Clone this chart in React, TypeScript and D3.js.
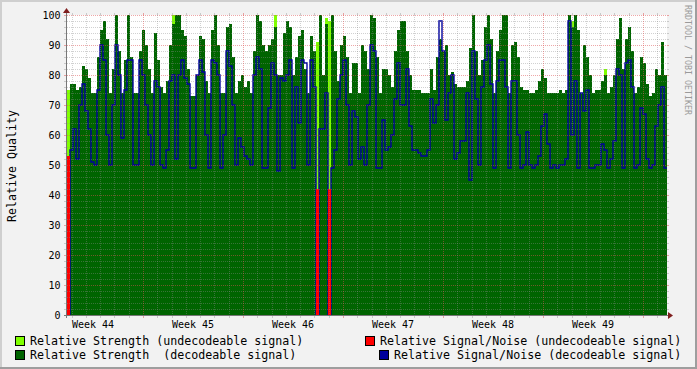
import React, { useEffect } from "react";
import * as d3 from "d3";

// one sample every ~5 hours
const strength = [
  0, 77, 77, 75, 76, 83, 82, 79, 74, 74,
  86, 95, 98, 92, 74, 82, 100, 88, 74, 85,
  100, 86, 74, 74, 88, 95, 90, 82, 74, 94,
  85, 76, 74, 78, 90, 97, 100, 100, 95, 93,
  82, 73, 73, 80, 93, 92, 78, 74, 95, 100,
  90, 74, 74, 96, 97, 86, 74, 78, 80, 76,
  78, 74, 88, 100, 98, 90, 88, 90, 92, 96,
  80, 80, 94, 98, 96, 80, 86, 93, 95, 82,
  74, 93, 88, 0, 100, 80, 97, 0, 100, 88,
  78, 90, 93, 86, 74, 84, 84, 74, 90, 88,
  82, 100, 99, 86, 74, 82, 82, 80, 76, 88,
  95, 98, 98, 88, 80, 75, 75, 75, 74, 74,
  74, 82, 75, 86, 92, 88, 90, 80, 81, 77,
  76, 76, 76, 78, 89, 100, 88, 80, 85, 96,
  100, 92, 74, 88, 95, 100, 100, 74, 90, 91,
  86, 76, 75, 75, 74, 74, 75, 78, 82, 79,
  74, 74, 74, 74, 75, 74, 75, 100, 96, 100,
  95, 74, 90, 86, 80, 74, 75, 75, 78, 80,
  74, 76, 80, 92, 99, 82, 92, 96, 88, 74,
  76, 86, 84, 77, 73, 74, 82, 80, 91, 80,
];

const signalNoise = [
  0, 55, 62, 52, 70, 77, 68, 62, 51, 50,
  75, 90, 85, 60, 50, 70, 90, 80, 59, 75,
  85, 85, 50, 50, 85, 80, 70, 60, 50, 78,
  76, 50, 49, 55, 78, 80, 52, 80, 85, 79,
  77, 49, 49, 80, 85, 81, 60, 49, 85, 84,
  80, 49, 60, 88, 83, 70, 50, 59, 56, 53,
  52, 50, 80, 86, 82, 49, 49, 69, 84, 80,
  48, 79, 78, 80, 85, 49, 76, 64, 85, 84,
  50, 85, 76, 0, 62, 62, 74, 0, 49, 55,
  72, 80, 85, 70, 50, 68, 66, 52, 56, 50,
  70, 90, 88, 49, 49, 65, 55, 56, 60, 72,
  84, 70, 70, 82, 63, 55, 55, 54, 53, 53,
  55, 72, 64, 70, 98, 88, 65, 74, 80, 52,
  54, 58, 58, 74, 45, 88, 72, 50, 76, 85,
  90, 77, 49, 78, 85, 85, 76, 49, 78, 78,
  60, 49, 50, 61, 50, 49, 50, 53, 63, 67,
  57, 49, 50, 49, 50, 50, 52, 98, 60, 78,
  49, 74, 68, 75, 49, 49, 50, 50, 57, 55,
  49, 52, 58, 82, 80, 49, 84, 85, 76, 49,
  50, 69, 67, 52, 49, 50, 63, 70, 76, 49,
];

// samples where the signal could not be decoded
const undecStrengthAt = [0, 35, 69, 83, 86, 87, 168, 179];
const undecStrength = [75, 100, 100, 91, 99, 98, 98, 82];
const undecNoiseAt = [0, 83, 87];
const undecNoise = [53, 42, 42];

const yTicks = [0, 10, 20, 30, 40, 50, 60, 70, 80, 90, 100];

const legendLabels = [
  "Relative Strength (undecodeable signal)",
  "Relative Signal/Noise (undecodeable signal)",
  "Relative Strength  (decodeable signal)",
  "Relative Signal/Noise (decodeable signal)",
];

export default function App() {
  const drawChart = () => {
    document.body.style.margin = "0";
    const root = d3.select("#rrd");
    root.selectAll("*").remove();

    const svgWidth = 697;
    const svgHeight = 369;
    const left = 67;
    const right = 667;
    const top = 15;
    const bottom = 315;
    const mono = "'DejaVu Sans Mono', monospace";

    const colors = {
      light: "#80FF00",
      dark: "#006400",
      red: "#FF0000",
      blue: "#00009C",
    };

    const svg = root
      .append("svg")
      .attr("width", svgWidth)
      .attr("height", svgHeight)
      .style("display", "block");

    // background and 3d frame
    svg.append("rect").attr("width", svgWidth).attr("height", svgHeight).attr("fill", "#F2F2F2");
    svg.append("rect").attr("x", 0).attr("y", 0).attr("width", svgWidth).attr("height", 2).attr("fill", "#CFCFCF");
    svg.append("rect").attr("x", 0).attr("y", 0).attr("width", 2).attr("height", svgHeight).attr("fill", "#CFCFCF");
    svg.append("rect").attr("x", 0).attr("y", svgHeight - 2).attr("width", svgWidth).attr("height", 2).attr("fill", "#9E9E9E");
    svg.append("rect").attr("x", svgWidth - 2).attr("y", 0).attr("width", 2).attr("height", svgHeight).attr("fill", "#9E9E9E");

    // canvas
    svg.append("rect").attr("x", left).attr("y", top).attr("width", right - left).attr("height", bottom - top).attr("fill", "#FFFFFF");

    const start = new Date(Date.UTC(2019, 9, 29, 16, 19));
    const end = new Date(start.getTime() + 42 * 864e5);
    const x = d3.scaleUtc().domain([start, end]).range([left, right]);
    const y = d3.scaleLinear().domain([0, 100]).range([bottom, top]);

    const n = strength.length;
    const step = (end.getTime() - start.getTime()) / n;
    const sx = (i: number) => x(new Date(start.getTime() + i * step));

    const full = (at: number[], vals: number[]) => {
      const a = new Array(n).fill(0);
      at.forEach((k, j) => (a[k] = vals[j]));
      return a;
    };
    const withEnd = (a: number[]) => a.concat([a[a.length - 1]]);

    const area = d3
      .area<number>()
      .x((d, i) => sx(i))
      .y0(y(0))
      .y1((d) => y(d))
      .curve(d3.curveStepAfter);

    const line = d3
      .line<number>()
      .x((d, i) => sx(i))
      .y((d) => y(d))
      .curve(d3.curveStepAfter);

    const plot = svg.append("g");
    plot.append("path").attr("d", area(withEnd(full(undecStrengthAt, undecStrength)))).attr("fill", colors.light).attr("shape-rendering", "crispEdges");
    plot.append("path").attr("d", area(withEnd(strength))).attr("fill", colors.dark).attr("shape-rendering", "crispEdges");
    plot
      .append("path")
      .attr("d", line(withEnd(signalNoise)))
      .attr("fill", "none")
      .attr("stroke", colors.blue)
      .attr("stroke-width", 1.4);
    // red columns sit over the blue drop lines
    plot.append("path").attr("d", area(withEnd(full(undecNoiseAt, undecNoise)))).attr("fill", colors.red).attr("shape-rendering", "crispEdges");

    // grid on top of the graph
    const minorColor = "rgba(140,140,140,0.4)";
    const majorColor = "rgba(222,80,80,0.5)";
    const grid = svg.append("g").attr("shape-rendering", "crispEdges");

    d3.range(0, 101, 2).forEach((v) => {
      const yy = Math.round(y(v)) + 0.5;
      const c = v % 10 === 0 ? majorColor : minorColor;
      grid.append("line").attr("x1", left).attr("x2", right).attr("y1", yy).attr("y2", yy).attr("stroke", c).attr("stroke-dasharray", "1,1");
      grid.append("line").attr("x1", left - 3).attr("x2", left).attr("y1", yy).attr("y2", yy).attr("stroke", c);
      grid.append("line").attr("x1", right).attr("x2", right + 2).attr("y1", yy).attr("y2", yy).attr("stroke", c);
    });

    d3.utcDay.range(start, end).forEach((d) => {
      const xx = Math.round(x(d)) + 0.5;
      const major = d3.utcMonday.floor(d).getTime() === d.getTime();
      const c = major ? majorColor : minorColor;
      grid.append("line").attr("x1", xx).attr("x2", xx).attr("y1", top).attr("y2", bottom).attr("stroke", c).attr("stroke-dasharray", "1,1");
      grid.append("line").attr("x1", xx).attr("x2", xx).attr("y1", top - 2).attr("y2", top).attr("stroke", c);
      grid.append("line").attr("x1", xx).attr("x2", xx).attr("y1", bottom).attr("y2", bottom + 3).attr("stroke", c);
    });

    // axes
    svg.append("line").attr("x1", left - 3).attr("x2", right + 4).attr("y1", bottom + 0.5).attr("y2", bottom + 0.5).attr("stroke", "#777").attr("shape-rendering", "crispEdges");
    svg.append("line").attr("x1", left - 0.5).attr("x2", left - 0.5).attr("y1", bottom + 3).attr("y2", top - 3).attr("stroke", "#777").attr("shape-rendering", "crispEdges");
    svg.append("path").attr("d", `M${right + 1},${bottom - 3}L${right + 6},${bottom + 0.5}L${right + 1},${bottom + 4}Z`).attr("fill", "#801F1F");
    svg.append("path").attr("d", `M${left - 4},${top - 2}L${left - 0.5},${top - 7}L${left + 3},${top - 2}Z`).attr("fill", "#801F1F");

    // y labels
    yTicks.forEach((v) => {
      svg.append("text").attr("x", 60.5).attr("y", y(v) + 4).attr("text-anchor", "end").attr("font-family", mono).attr("font-size", 10).attr("fill", "#000").text(v);
    });

    // week labels, centred in the week
    const weekFmt = d3.utcFormat("%V");
    d3.utcMonday.range(d3.utcMonday.floor(start), end).forEach((m) => {
      const mid = new Date(m.getTime() + 3.5 * 864e5);
      if (mid < start || mid > end) return;
      svg.append("text").attr("x", x(mid)).attr("y", 327.5).attr("text-anchor", "middle").attr("font-family", mono).attr("font-size", 10).attr("fill", "#000").text("Week " + weekFmt(m));
    });

    // y title
    svg
      .append("text")
      .attr("transform", "translate(15.5,166) rotate(-90)")
      .attr("text-anchor", "middle")
      .attr("font-family", mono)
      .attr("font-size", 11.65)
      .attr("fill", "#000")
      .text("Relative Quality");

    // watermark
    svg
      .append("text")
      .attr("transform", "translate(685,5) rotate(90)")
      .attr("font-family", mono)
      .attr("font-size", 8.3)
      .attr("fill", "#9A9A9A")
      .text("RRDTOOL / TOBI OETIKER");

    // legend
    const legendPos = [
      { bx: 15, by: 336, tx: 30, ty: 345, c: colors.light },
      { bx: 365, by: 336, tx: 380, ty: 345, c: colors.red },
      { bx: 15, by: 350, tx: 30, ty: 358.5, c: colors.dark },
      { bx: 379, by: 350, tx: 394, ty: 358.5, c: colors.blue },
    ];
    legendPos.forEach((p, i) => {
      svg.append("rect").attr("x", p.bx + 0.5).attr("y", p.by + 0.5).attr("width", 9).attr("height", 9).attr("fill", p.c).attr("stroke", "#000").attr("stroke-width", 1).attr("shape-rendering", "crispEdges");
      svg.append("text").attr("x", p.tx).attr("y", p.ty).attr("font-family", mono).attr("font-size", 11.65).attr("fill", "#000").attr("xml:space", "preserve").style("white-space", "pre").text(legendLabels[i]);
    });
  };

  useEffect(() => {
    drawChart();
  }, []);

  return <div id="rrd"></div>;
}
